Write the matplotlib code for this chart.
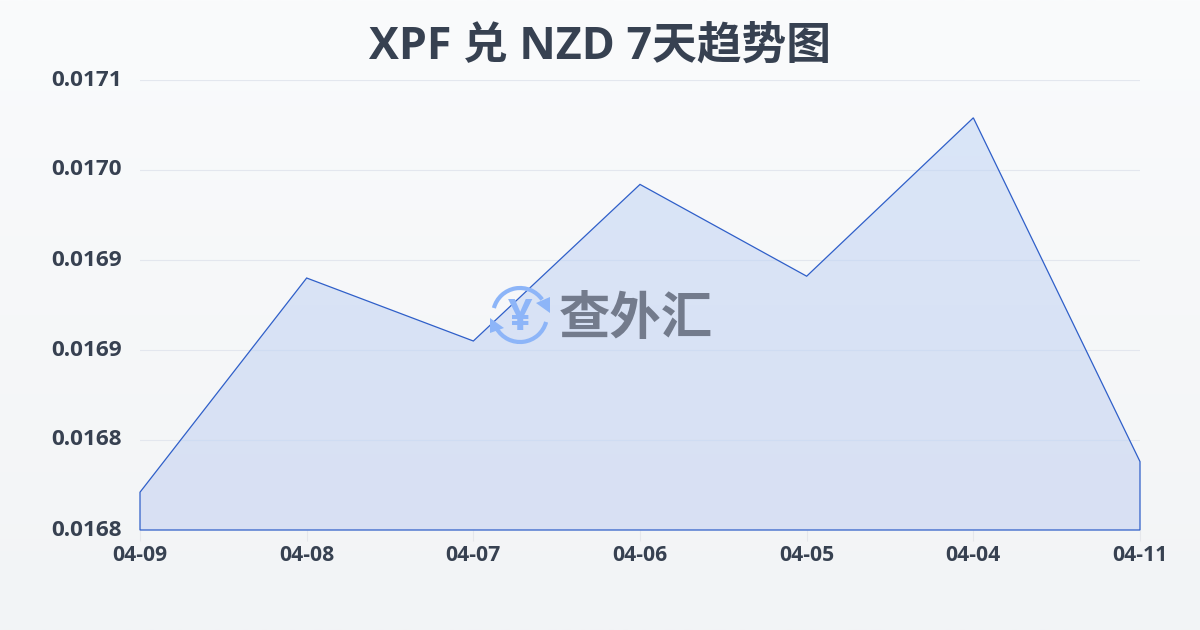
import numpy as np
import matplotlib
matplotlib.use("Agg")
import matplotlib.pyplot as plt
from matplotlib.patches import Arc, Polygon

plt.rcParams['font.family'] = ['Open Sans', 'Noto Sans CJK SC', 'DejaVu Sans']

title = "XPF 兑 NZD 7天趋势图"
dates = ["04-09", "04-08", "04-07", "04-06", "04-05", "04-04", "04-11"]
rates = [0.016821, 0.016940, 0.016905, 0.016992, 0.016941, 0.017029, 0.016838]
y_ticks = [0.01680, 0.01685, 0.01690, 0.01695, 0.01700, 0.01705]
y_labels = ["0.0168", "0.0168", "0.0169", "0.0169", "0.0170", "0.0171"]
watermark = "查外汇"

W, H = 1200, 630
fig = plt.figure(figsize=(W / 100, H / 100), dpi=100)

bg = fig.add_axes([0, 0, 1, 1], zorder=0)
bg.axis("off")
top, bot = np.array([250, 251, 252]) / 255, np.array([242, 244, 246]) / 255
t = np.linspace(0, 1, 256)[:, None, None]
bg.imshow(top + (bot - top) * t, aspect="auto", extent=[0, 1, 0, 1])

ax = fig.add_axes([140 / W, 1 - 530 / H, 1000 / W, 450 / H], zorder=1)
ax.patch.set_alpha(0)
x = np.arange(len(dates))
ax.set_xlim(0, len(dates) - 1)
ax.set_ylim(y_ticks[0], y_ticks[-1])

ax.set_yticks(y_ticks)
ax.set_yticklabels(y_labels, fontsize=16.2, fontweight="bold", color="#374151")
ax.set_xticks(x)
ax.set_xticklabels(dates, fontsize=15.2, fontweight="bold", color="#374151")
ax.tick_params(axis="y", length=0, pad=13)
ax.tick_params(axis="x", length=8, width=0.8, color="#e5e7eb", pad=2.5)
for lab in ax.get_yticklabels():
    lab.set_verticalalignment("center")
ax.grid(axis="y", color="#e3e7ee", lw=0.8, zorder=1)
ax.set_axisbelow(True)
for s in ax.spines.values():
    s.set_visible(False)

verts = list(zip(x, rates)) + [(x[-1], y_ticks[0]), (x[0], y_ticks[0])]
clip = Polygon(verts, closed=True, transform=ax.transData, fc="none", ec="none")
ax.add_patch(clip)
c1, c2 = np.array([218, 230, 248, 255]) / 255, np.array([216, 224, 243, 255]) / 255
t2 = np.linspace(0, 1, 256)[:, None, None]
im = ax.imshow(c1 + (c2 - c1) * t2, aspect="auto", zorder=2,
               extent=[0, len(dates) - 1, y_ticks[0], y_ticks[-1]])
im.set_clip_path(clip)
ax.hlines(y_ticks[1:], 0, len(dates) - 1, color="#cfdcf2", lw=0.8, zorder=2.5,
          clip_path=clip)
ax.add_patch(Polygon(verts, closed=True, fc="none", ec="#2f5fc9", lw=0.9,
                     zorder=3, clip_on=False))
ax.set_xlim(0, len(dates) - 1)
ax.set_ylim(y_ticks[0], y_ticks[-1])

fig.text(600 / W, 1 - 47 / H, title, ha="center", va="center", fontsize=32.2,
         fontweight="bold", color="#374151", zorder=5)

ov = fig.add_axes([0, 0, 1, 1], zorder=4)
ov.axis("off")
ov.set_xlim(0, W)
ov.set_ylim(H, 0)
ov.patch.set_alpha(0)
blue = "#8db5f8"
cx, cy = 520, 315
ov.add_patch(Arc((cx, cy), 54, 54, theta1=15, theta2=150, color=blue, lw=3))
ov.add_patch(Arc((cx, cy), 54, 54, theta1=195, theta2=325, color=blue, lw=3))
ov.add_patch(Polygon([(550, 297), (550, 313), (536, 303)], closed=True, fc=blue, ec="none"))
ov.add_patch(Polygon([(490, 318), (490, 333), (504, 328)], closed=True, fc=blue, ec="none"))
ov.text(cx, cy + 4, "¥", fontsize=31, fontweight="bold", color=blue, ha="center",
        va="center")
ov.text(636, 321, watermark, fontsize=37, fontweight="bold", color="#737b8c",
        ha="center", va="center")

fig.savefig("out.png", dpi=100)
